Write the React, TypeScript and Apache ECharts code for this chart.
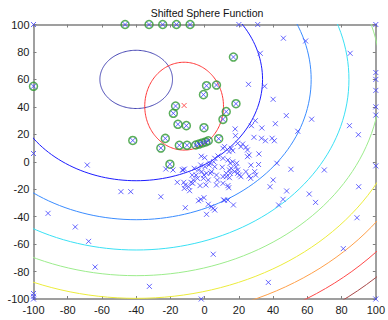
import React, { useEffect, useRef } from "react";
import * as echarts from "echarts";

// ---- data ----
const titleText = "Shifted Sphere Function";
const axisMin = -100;
const axisMax = 100;
const tickStep = 20;

// sphere function f = (x-cx)^2 + (y-cy)^2 + bias ; contour levels
const sphereCenter = [-40, 60];
const sphereBias = -450;
const contourLevels = [0, 5000, 10000, 15000, 20000, 25000, 30000, 35000, 40000];
const contourColors = [
  "#4646b4",
  "#1c1cff",
  "#3a8cff",
  "#3ae0f4",
  "#9cec8c",
  "#ecec3c",
  "#ffa04a",
  "#ff4a4a",
  "#a84848",
];

// red ellipse (center, radii in data units)
const ellipseCenter = [-12, 40.5];
const ellipseRadii = [23, 32];

// best point (red x)
const bestPoint = [[-12, 41]];

// points marked with green circles
const circledPoints = [
  [-46.5, 100], [-32.5, 100], [-24.5, 100], [-16.5, 100], [-8.5, 100], [-100, 55],
  [-42, 15.5], [-23, 17], [-25.6, 10], [-17, 40.6], [-18.3, 35.3], [-15.6, 27.3],
  [-10.7, 26.3], [-14.8, 12], [-10.3, 12], [-20.3, -1.8],
  [16.8, 76.3], [1.1, 55.4], [6.9, 55.9], [-0.7, 48.9], [18.3, 42.3], [12.6, 36.5],
  [10.7, 30.9], [-0.4, 24.8], [8.2, 16.8],
  [-5.2, 12.2], [-3.3, 12.9], [-1.3, 13.7], [0.6, 14.4], [2.1, 15.3],
];

// all other population points (blue x)
const populationPoints = [
  [-100, 100], [-100, 6], [-100, -96], [-100, -98], [-100, -100],
  [20, 100], [31, 100], [100, 100],
  [100, 65], [100, 60], [100, 52], [100, 40], [100, 34], [100, -3], [100, -100], [-2, -100],
  [46, 90], [59, 88], [32.5, 79], [85, 79], [35, 55], [25.6, 56.4], [40, 45.5], [47.7, 33.6],
  [41.3, 27.7], [62.5, 31], [84.6, 26.3], [89.8, 19.7], [29.6, 29.9], [27.3, 26.3],
  [33.4, 24.6], [17.8, 23.9], [54.4, 22.2], [18, 19],
  [28.8, 17.8], [33.2, 17.1], [35.5, 15.3], [39.4, 17.1], [40.7, 15.3],
  [22.2, 12.9], [21.2, 11], [24.1, 10.5], [25, 8.6], [19.3, 13.4],
  [16.4, 8.1], [15.5, 9.8], [14.2, 7.4], [10.7, 9.8], [11.6, 11],
  [26, 4.9], [25, 3.7], [31.7, 5.7],
  [42.2, -1.1], [27, -2.5], [31.5, -2], [40, -13.3],
  [3, -1.1], [0.2, -3.6], [5.9, 2.5], [7.8, 4.2], [10.7, 2.5], [13.6, 1.3], [16.4, 0],
  [18.3, -3.6], [17.4, -7.2], [14.5, -6], [12.6, -8.4], [19.3, -8.4], [24.1, -7.2],
  [26, -10.4], [29.8, -9.7], [-2, 4], [0, 3],
  [29.2, -7.2], [50.4, -5.5], [69.9, -6], [26.9, -12.1], [38.2, -18.2], [47.9, -21.3],
  [61.1, -23.5], [64.8, -29.6], [45.8, -27.4], [43.2, -31.5], [90, -18.2], [89, -40.8],
  [81, -63.3], [37.2, -87.9], [5, -67.4], [16.8, -31.5], [11.5, -28],
  [-22.7, -5.3], [-12.6, -6], [-11.8, -5.3], [-25.6, -25.5], [-16, -15], [-12.2, -15],
  [-11.3, -16.9], [-11.9, -19.4],
  [-8, -15], [-6.5, -13.3], [-7.3, -9.7], [-5, -9.7], [-2.7, -17.4], [0.7, -16.9],
  [2.1, -13.3], [1.1, -8.4], [4, -7.2], [5.9, -3.6], [6.9, -9.7], [7.4, -13.3],
  [6.9, -16.9], [10.7, -10.9], [12.6, -10.9], [14.5, -11.6], [15.5, -4.8], [19.3, -6],
  [20.3, -9.7], [13.6, -17.4], [14.1, -18.9], [21.2, -10.9],
  [-3.6, -28.4], [-2.3, -27.4], [-0.4, -26.2], [2.1, -31], [4, -32.8], [5, -33.9],
  [5.9, -35.2], [1.1, -38.3], [-11.3, -33.5], [11.1, -27.9], [13.6, -27.9],
  [-68.6, -2.4], [-91.5, -37.6], [-75.6, -47.5], [-67.8, -58], [-64, -76.7],
  [-32.3, -90.8], [-48.9, -21.8], [-43.2, -21.8], [-18.5, -6], [-13, -6],
  [-9.4, -18.2], [-8.8, -21.1],
  [-6.1, -4.8], [-2.3, -2.4], [2.5, -2.4], [5.3, 0], [10.3, -4], [14.9, -1.1],
  [18.7, -1.1], [14.9, -8.4], [3.4, -8.4], [-0.4, -9.7], [-4.2, -12.1], [-7, -15.7],
  [-3.6, -6], [-1.7, -7.2], [-0.7, -12.1], [10.7, -15.7],
];

// ---- helpers (closed curves sampled through the data coordinates) ----
const ellipsePoints = (cx: number, cy: number, rx: number, ry: number) => {
  const pts: number[][] = [];
  for (let d = 0; d <= 360; d += 2) {
    const t = (d * Math.PI) / 180;
    pts.push([cx + rx * Math.cos(t), cy + ry * Math.sin(t)]);
  }
  return pts;
};

const FONT = "'Liberation Sans', Arial, Helvetica, sans-serif";
const AXIS_GREY = "#808080";

const X_SYMBOL = "path://M0,0L10,10M10,0L0,10";

export default function App() {
  const ref = useRef<HTMLDivElement>(null);

  useEffect(() => {
    if (!ref.current) return;
    const chart = echarts.init(ref.current, undefined, { renderer: "svg" });

    const axisBase = (show: boolean, margin: number) => ({
      type: "value" as const,
      min: axisMin,
      max: axisMax,
      interval: tickStep,
      axisLine: { show: true, onZero: false, lineStyle: { color: AXIS_GREY, width: 1.5 } },
      axisTick: { show: true, inside: true, length: 3, lineStyle: { color: AXIS_GREY, width: 1 } },
      splitLine: { show: false },
      axisLabel: { show, color: "#1a1a1a", fontSize: 11, fontFamily: FONT, margin },
    });

    const contourSeries = contourLevels.map((lv, i) => {
      const r = Math.sqrt(lv - sphereBias);
      return {
        type: "line",
        xAxisIndex: 0,
        yAxisIndex: 0,
        data: ellipsePoints(sphereCenter[0], sphereCenter[1], r, r),
        showSymbol: false,
        symbol: "none",
        clip: true,
        silent: true,
        z: 1,
        lineStyle: { color: contourColors[i], width: 1 },
      };
    });

    chart.setOption({
      animation: false,
      grid: { left: 33.5, right: 5.5, top: 24.5, bottom: 21, containLabel: false },
      xAxis: [
        { ...axisBase(true, 5), position: "bottom" },
        { ...axisBase(false, 5), position: "top" },
      ],
      yAxis: [
        { ...axisBase(true, 4), position: "left" },
        { ...axisBase(false, 4), position: "right" },
      ],
      graphic: [
        {
          type: "text",
          x: 207,
          y: 13,
          silent: true,
          style: {
            text: titleText,
            fill: "#111",
            fontSize: 10.5,
            fontFamily: FONT,
            align: "center",
            verticalAlign: "middle",
          },
        },
      ],
      series: [
        ...contourSeries,
        {
          type: "line",
          data: ellipsePoints(ellipseCenter[0], ellipseCenter[1], ellipseRadii[0], ellipseRadii[1]),
          showSymbol: false,
          symbol: "none",
          silent: true,
          z: 2,
          lineStyle: { color: "#ff3838", width: 1 },
        },
        {
          type: "scatter",
          data: circledPoints,
          symbol: "circle",
          symbolSize: 8,
          clip: false,
          silent: true,
          z: 3,
          itemStyle: { color: "rgba(0,0,0,0)", borderColor: "#2f9a2f", borderWidth: 1.5 },
        },
        {
          type: "scatter",
          data: [...populationPoints, ...circledPoints],
          symbol: X_SYMBOL,
          symbolSize: 5,
          clip: false,
          silent: true,
          z: 4,
          itemStyle: { color: "rgba(0,0,0,0)", borderColor: "#4040ff", borderWidth: 1 },
        },
        {
          type: "scatter",
          data: bestPoint,
          symbol: X_SYMBOL,
          symbolSize: 5,
          clip: false,
          silent: true,
          z: 5,
          itemStyle: { color: "rgba(0,0,0,0)", borderColor: "#ff3030", borderWidth: 1 },
        },
      ],
    });

    return () => chart.dispose();
  }, []);

  return (
    <div
      ref={ref}
      style={{ position: "fixed", left: 0, top: 0, width: 388, height: 320, background: "#fff" }}
    />
  );
}
